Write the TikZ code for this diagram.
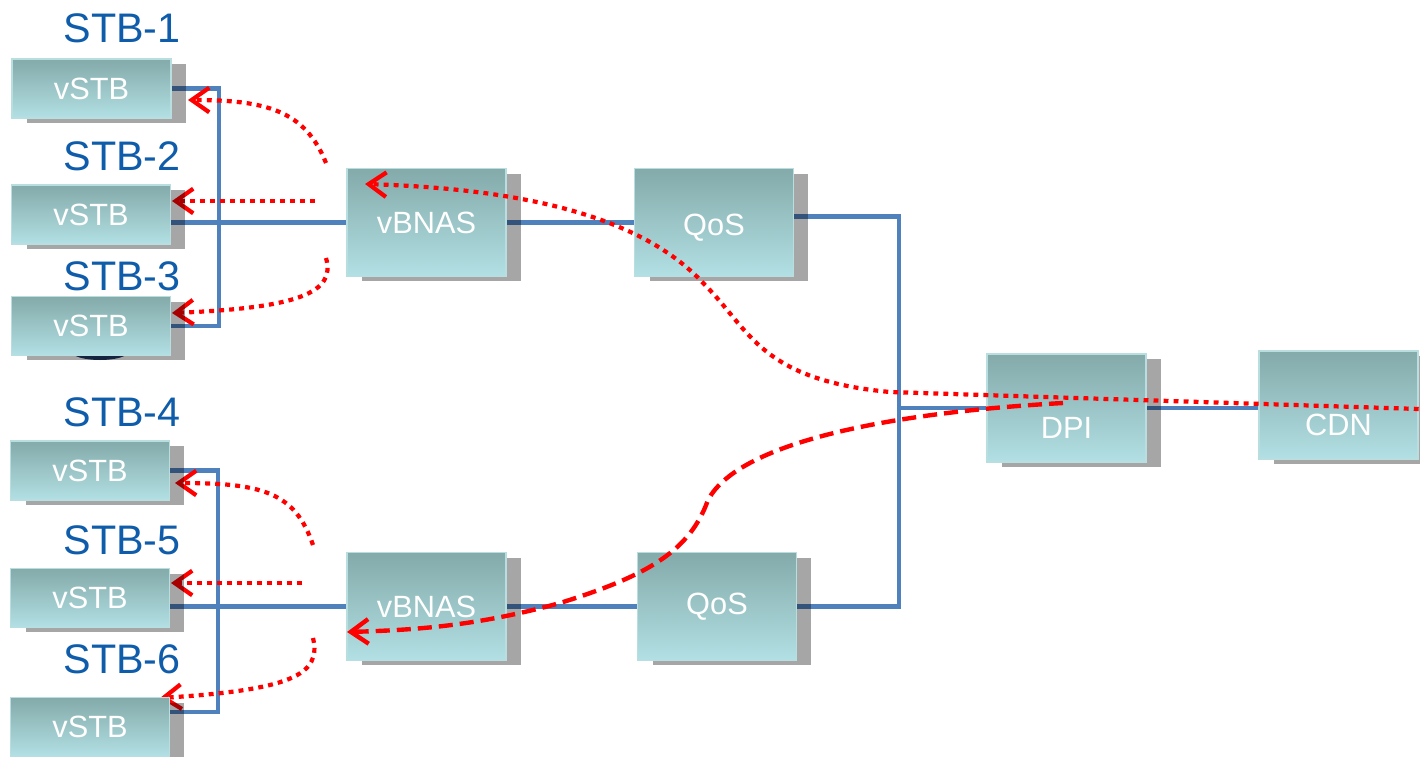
\documentclass[tikz,border=0pt]{standalone}
\usepackage{fontspec}
\setmainfont{Liberation Sans}
\usepackage{tikz}
\usetikzlibrary{positioning, arrows, arrows.meta, shadows, backgrounds}

\definecolor{boxtop}{RGB}{132,170,170}
\definecolor{boxbot}{RGB}{178,224,228}
\definecolor{boxrim}{RGB}{184,222,224}
\definecolor{linkblue}{RGB}{79,129,189}
\definecolor{labelblue}{RGB}{14,92,170}
\definecolor{navy}{RGB}{31,56,100}

\tikzset{
  netbox/.style={rectangle, inner sep=0pt, top color=boxtop, bottom color=boxbot,
    draw=boxrim, line width=0.8pt, text=white, font=\fontsize{17.5}{20}\selectfont,
    drop shadow={shadow xshift=0.3cm, shadow yshift=-0.1cm, fill=black, opacity=0.35}},
  stbbox/.style={netbox, minimum width=3.18cm, minimum height=1.18cm},
  bigbox/.style={netbox, minimum width=3.18cm, minimum height=2.16cm},
  stblabel/.style={text=labelblue, font=\fontsize{23.5}{28}\selectfont},
  link/.style={linkblue, line width=2.3pt},
  flowdot/.style={red, line width=2.4pt, dash pattern=on 2.8pt off 2.9pt,
    -{Straight Barb[length=10pt,width=14pt]}},
  flowdash/.style={red, line width=2.5pt, dash pattern=on 8pt off 4pt,
    -{Straight Barb[length=10pt,width=14pt]}},
}

\begin{document}
\begin{tikzpicture}[x=0.02cm, y=-0.02cm]
\useasboundingbox (0,0) rectangle (1420,757);

% --- set-top boxes ---
\node[stbbox] (vstbA) at (91.5,88.5) {vSTB};
\node[stbbox] (vstbB) at (91,214.5) {vSTB};
\node[stbbox] (vstbC) at (91,326) {vSTB};
\node[stbbox] (vstbD) at (90,470.5) {vSTB};
\node[stbbox] (vstbE) at (90,598) {vSTB};
\node[stbbox] (vstbF) at (90,727) {vSTB};

\node[stblabel] (lblA) at (122,28) {STB-1};
\node[stblabel] (lblB) at (122,156) {STB-2};
\node[stblabel] (lblC) at (122,276) {STB-3};
\node[stblabel] (lblD) at (122,412) {STB-4};
\node[stblabel] (lblE) at (122,540) {STB-5};
\node[stblabel] (lblF) at (122,659) {STB-6};

% --- network side ---
\node[bigbox] (bnasA) at (426.5,222.5) {vBNAS};
\node[bigbox] (qosA) at (714,222.5) {\raisebox{-0.27cm}[0pt][0pt]{QoS}};
\node[bigbox] (bnasB) at (426.5,606.5) {vBNAS};
\node[bigbox] (qosB) at (717,606.5) {QoS};
\node[bigbox] (dpi) at (1066.5,408) {\raisebox{-0.62cm}[0pt][0pt]{DPI}};
\node[bigbox] (cdn) at (1338.5,405) {\raisebox{-0.62cm}[0pt][0pt]{CDN}};

\coordinate (trunk) at (899,408);
\coordinate (srcA) at (326,163);
\coordinate (dstA) at (188,100);
\coordinate (srcB) at (315,201);
\coordinate (dstB) at (172,201);
\coordinate (srcC) at (326,258);
\coordinate (dstC) at (172,313);
\coordinate (srcD) at (313,545);
\coordinate (dstD) at (175,483);
\coordinate (srcE) at (302,583);
\coordinate (dstE) at (171,583);
\coordinate (srcF) at (313,638);
\coordinate (dstF) at (160,698);
\coordinate (dpiTap) at (1063,403);
\coordinate (bnasTip) at (365,184);
\coordinate (bnasTipB) at (347,632);

\begin{pgfonlayer}{background}
% --- dark base under STB-3 ---
\fill[navy] (100,352) ellipse (0.56cm and 0.16cm);

% --- links ---
\draw[link] (vstbA.east) -- ++(47,0) coordinate (busA) |- (vstbC.east);
\draw[link] (vstbB.east |- bnasA.west) -- (bnasA.west);
\draw[link] (bnasA.east) -- (qosA.west);
\draw[link] ([yshift=0.12cm]qosA.east) -| (trunk) |- (qosB.east);
\draw[link] (trunk) -- (dpi.west);
\draw[link] (dpi.east) -- (dpi.east -| cdn.west);
\draw[link] (vstbD.east) -- ++(48,0) coordinate (busB) |- ([yshift=0.3cm]vstbF.east);
\draw[link] (vstbE.east |- bnasB.west) -- (bnasB.west);
\draw[link] (bnasB.east) -- (qosB.west);

% --- short flows to the boxes ---
\draw[flowdot] (srcA) .. controls (305,110) and (265,100) .. (dstA);
\draw[flowdot] (srcB) -- (dstB);
\draw[flowdot] (srcC) .. controls (336,292) and (300,308) .. (dstC);
\draw[flowdot] (srcD) .. controls (295,492) and (262,483) .. (dstD);
\draw[flowdot] (srcE) -- (dstE);
\draw[flowdot] (srcF) .. controls (322,675) and (290,690) .. (dstF);
\end{pgfonlayer}

% --- long flows ---
\draw[flowdot] ([yshift=-0.08cm]cdn.east) -- (890,392)
  .. controls (760,380) and (750,330) .. (705,285)
  .. controls (655,230) and (560,190) .. (bnasTip);
\draw[flowdash] (dpiTap) .. controls (900,412) and (740,440) .. (708,500)
  .. controls (690,550) and (650,575) .. (560,603)
  .. controls (480,625) and (420,630) .. (bnasTipB);
\end{tikzpicture}
\end{document}
